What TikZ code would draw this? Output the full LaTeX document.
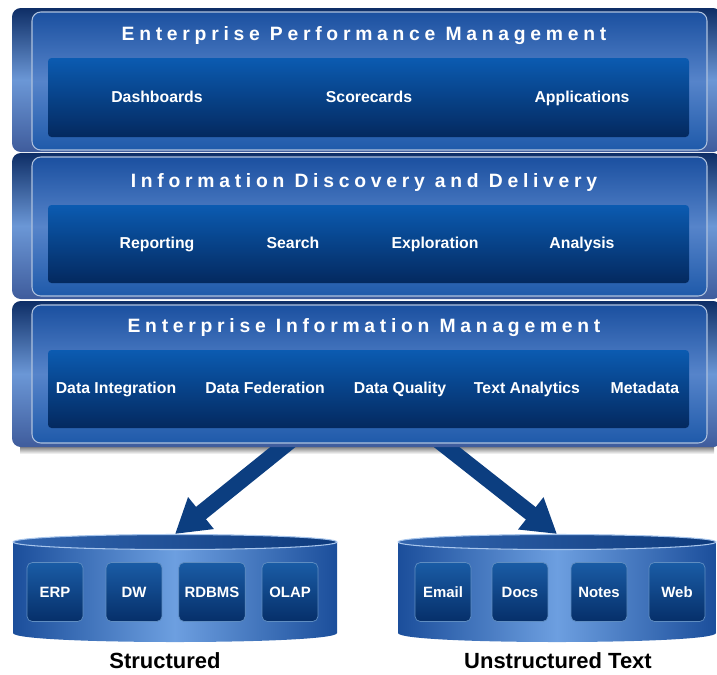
\documentclass[tikz,border=0pt]{standalone}
\usepackage{fontspec}
\setmainfont{Liberation Sans}
\newfontfamily\spacedfont[LetterSpace=24.5]{Liberation Sans}
\usetikzlibrary{arrows.meta,shapes.geometric}
\definecolor{backtop}{HTML}{0E2E66}
\definecolor{backmid}{HTML}{6B97D6}
\definecolor{backlow}{HTML}{3F5C9C}
\definecolor{paneltop}{HTML}{1B50A0}
\definecolor{panelmid}{HTML}{5684CA}
\definecolor{panellow}{HTML}{1F5AAA}
\definecolor{innertop}{HTML}{0B5BB1}
\definecolor{innerlow}{HTML}{04295F}
\definecolor{cylside}{HTML}{1B4E9B}
\definecolor{cylmid}{HTML}{6D9FE0}
\definecolor{cyltopl}{HTML}{3366B0}
\definecolor{cyltopr}{HTML}{0D3A7C}
\definecolor{boxtop}{HTML}{1A5CA6}
\definecolor{boxlow}{HTML}{062F69}
\definecolor{arrowblue}{HTML}{0C3E80}
\tikzset{
  backpanel/.style={rounded corners=5pt,top color=backtop,bottom color=backlow,middle color=backmid},
  frontpanel/.style={rounded corners=5pt,draw=white!65!paneltop,line width=0.6pt,top color=paneltop,bottom color=panellow,middle color=panelmid},
  innerbox/.style={rounded corners=2pt,top color=innertop,bottom color=innerlow},
  layertitle/.style={text=white,text height=8pt,text depth=2.5pt,font=\spacedfont\bfseries\fontsize{11}{13}\selectfont},
  layeritem/.style={text=white,text height=7pt,text depth=2pt,font=\bfseries\fontsize{9}{11}\selectfont},
  cyltop/.style={ellipse,inner sep=0pt,left color=cyltopl,right color=cyltopr,draw=cylmid!60!white,line width=0.6pt},
  srcbox/.style={rounded corners=3pt,top color=boxtop,bottom color=boxlow,draw=boxtop!70!white,line width=0.4pt,
    minimum width=1.12cm,minimum height=1.18cm,text=white,font=\bfseries\fontsize{8.5}{10}\selectfont},
  srclabel/.style={text height=9pt,text depth=3pt,font=\bfseries\fontsize{12.5}{14}\selectfont},
  bigarrow/.style={arrowblue,line width=9pt,-{Triangle[length=19pt,width=22pt]}}
}

\begin{document}
\begin{tikzpicture}[x=0.02cm,y=-0.02cm]
  \useasboundingbox (0,0) rectangle (717,674);

  % Enterprise Performance Management
  \shade[backpanel] (12,8) rectangle (722,152);
  \shade[frontpanel] (32,12) rectangle (707,150);
  \shade[innerbox] (48,58) rectangle (689,137);
  \node [layertitle] (epmtitle) at (364,36) {Enterprise Performance Management};
  \node [layeritem] (dashboards) at (157,98.5) {Dashboards};
  \node [layeritem] (scorecards) at (369,98.5) {Scorecards};
  \node [layeritem] (applications) at (582,98.5) {Applications};

  % Information Discovery and Delivery
  \shade[backpanel] (12,153) rectangle (722,299);
  \shade[frontpanel] (32,157) rectangle (707,296);
  \shade[innerbox] (48,205) rectangle (689,283);
  \node [layertitle] (iddtitle) at (364,183) {Information Discovery and Delivery};
  \node [layeritem] (reporting) at (157,244.5) {Reporting};
  \node [layeritem] (search) at (293,244.5) {Search};
  \node [layeritem] (exploration) at (435,244.5) {Exploration};
  \node [layeritem] (analysis) at (582,244.5) {Analysis};

  % data stores
  \shade[left color=cylside,right color=cylside,middle color=cylmid]
    (13,542) -- (13,633) .. controls (13,645) and (337,645) .. (337,633) -- (337,542) -- cycle;
  \node [cyltop,minimum width=6.48cm,minimum height=0.3cm] (structdb) at (175,542) {};
  \shade[left color=cylside,right color=cylside,middle color=cylmid]
    (398,542) -- (398,633) .. controls (398,645) and (716,645) .. (716,633) -- (716,542) -- cycle;
  \node [cyltop,minimum width=6.36cm,minimum height=0.3cm] (unstructdb) at (557,542) {};

  \node [srcbox] (erp) at (55,592) {ERP};
  \node [srcbox] (dw) at (134,592) {DW};
  \node [srcbox] (rdbms) at (212,592) {RDBMS};
  \node [srcbox] (olap) at (290,592) {OLAP};
  \node [srcbox] (email) at (443,592) {Email};
  \node [srcbox] (docs) at (520,592) {Docs};
  \node [srcbox] (notes) at (599,592) {Notes};
  \node [srcbox] (web) at (677,592) {Web};

  \node [srclabel] (structlabel) at (165,663.5) {Structured};
  \node [srclabel] (unstructlabel) at (558,663.5) {Unstructured Text};

  \shade[top color=black!55,bottom color=white] (20,446) rectangle (714,454);
  \coordinate (eimleft) at (304,430);
  \coordinate (eimright) at (425,430);
  \draw [bigarrow] (eimleft) -- (structdb.north);
  \draw [bigarrow] (eimright) -- (unstructdb.north);

  % Enterprise Information Management
  \shade[backpanel] (12,301) rectangle (722,447);
  \shade[frontpanel] (32,305) rectangle (707,443);
  \shade[innerbox] (48,350) rectangle (689,428);
  \node [layertitle] (eimtitle) at (364,328) {Enterprise Information Management};
  \node [layeritem] (integration) at (116,389.5) {Data Integration};
  \node [layeritem] (federation) at (265,389.5) {Data Federation};
  \node [layeritem] (quality) at (400,389.5) {Data Quality};
  \node [layeritem] (textanalytics) at (527,389.5) {Text Analytics};
  \node [layeritem] (metadata) at (645,389.5) {Metadata};
\end{tikzpicture}
\end{document}
